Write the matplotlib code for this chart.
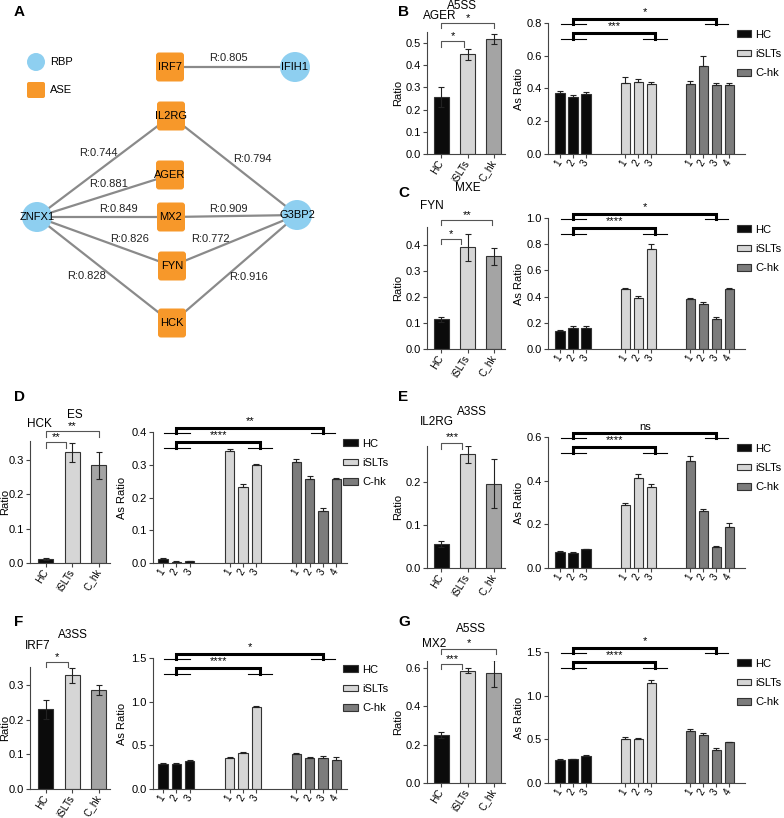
import matplotlib
matplotlib.use("Agg")
import matplotlib.pyplot as plt
from matplotlib.patches import Circle, FancyBboxPatch, Patch
from matplotlib.ticker import FormatStrFormatter, MultipleLocator

W, H = 784, 818
plt.rcParams['font.family'] = ['Liberation Sans', 'DejaVu Sans']

# ------------------------------------------------------------------------
# data
# ------------------------------------------------------------------------
groups = ["HC", "iSLTs", "C_hk"]
legend_names = ["HC", "iSLTs", "C-hk"]
sample_labels = ["1", "2", "3", "1", "2", "3", "1", "2", "3", "4"]
sample_group = [0, 0, 0, 1, 1, 1, 2, 2, 2, 2]
sample_pos = [0, 1, 2, 5, 6, 7, 10, 11, 12, 13]

# panel A network (node layout in pixels)
rbp_nodes = {"ZNFX1": (37, 217), "G3BP2": (297, 215), "IFIH1": (295, 67)}
ase_nodes = {"IRF7": (170, 67), "IL2RG": (171, 116), "AGER": (170, 175),
             "MX2": (171, 217), "FYN": (172, 266), "HCK": (172, 323)}
edges = [("IRF7", "IFIH1", 0.805), ("ZNFX1", "IL2RG", 0.744), ("ZNFX1", "AGER", 0.881),
         ("ZNFX1", "MX2", 0.849), ("ZNFX1", "FYN", 0.826), ("ZNFX1", "HCK", 0.828),
         ("G3BP2", "IL2RG", 0.794), ("G3BP2", "MX2", 0.909), ("G3BP2", "FYN", 0.772),
         ("G3BP2", "HCK", 0.916)]
edge_label_xy = [(228, 58), (98, 153), (109, 184), (118, 209), (130, 239), (87, 276),
                 (252, 159), (228, 209), (210, 239), (249, 277)]

# B  AGER A5SS
ager_ratio = [0.255, 0.45, 0.52]
ager_err = [0.045, 0.025, 0.022]
ager_as = [0.37, 0.35, 0.365, 0.435, 0.44, 0.43, 0.43, 0.535, 0.42, 0.42]
ager_as_err = [0.012, 0.012, 0.015, 0.035, 0.018, 0.012, 0.018, 0.065, 0.015, 0.015]
# C  FYN MXE
fyn_ratio = [0.115, 0.392, 0.357]
fyn_err = [0.01, 0.052, 0.032]
fyn_as = [0.135, 0.163, 0.163, 0.46, 0.39, 0.76, 0.38, 0.345, 0.23, 0.46]
fyn_as_err = [0.01, 0.012, 0.015, 0.008, 0.012, 0.04, 0.007, 0.012, 0.015, 0.008]
# D  HCK ES
hck_ratio = [0.012, 0.322, 0.284]
hck_err = [0.003, 0.028, 0.04]
hck_as = [0.012, 0.004, 0.005, 0.343, 0.233, 0.3, 0.307, 0.257, 0.16, 0.255]
hck_as_err = [0.003, 0.002, 0.002, 0.006, 0.007, 0.002, 0.01, 0.01, 0.007, 0.004]
# E  IL2RG A3SS
il2rg_ratio = [0.055, 0.266, 0.197]
il2rg_err = [0.007, 0.02, 0.058]
il2rg_as = [0.075, 0.068, 0.085, 0.29, 0.41, 0.37, 0.49, 0.26, 0.098, 0.19]
il2rg_as_err = [0.004, 0.003, 0.003, 0.008, 0.022, 0.015, 0.025, 0.012, 0.003, 0.017]
# F  IRF7 A3SS
irf7_ratio = [0.23, 0.328, 0.285]
irf7_err = [0.027, 0.022, 0.015]
irf7_as = [0.285, 0.285, 0.315, 0.355, 0.41, 0.935, 0.4, 0.36, 0.35, 0.335]
irf7_as_err = [0.01, 0.01, 0.02, 0.015, 0.01, 0.02, 0.015, 0.005, 0.03, 0.03]
# G  MX2 A5SS
mx2_ratio = [0.25, 0.585, 0.57]
mx2_err = [0.015, 0.012, 0.07]
mx2_as = [0.265, 0.27, 0.31, 0.5, 0.5, 1.15, 0.595, 0.555, 0.38, 0.465]
mx2_as_err = [0.015, 0.01, 0.008, 0.03, 0.01, 0.025, 0.02, 0.015, 0.02, 0.01]

small_colors = ["#0b0b0b", "#d6d6d6", "#a4a4a4"]
big_colors = ["#0b0b0b", "#d6d6d6", "#7c7c7c"]
EDGE = "#333333"

fig = plt.figure(figsize=(W / 100, H / 100), dpi=100)


def px_axes(x0, y0, x1, y1):
    return fig.add_axes([x0 / W, 1 - y1 / H, (x1 - x0) / W, (y1 - y0) / H])


def px_text(x, y, s, **kw):
    fig.text(x / W, 1 - y / H, s, **kw)


def style(ax):
    for s in ("top", "right"):
        ax.spines[s].set_visible(False)
    for s in ("left", "bottom"):
        ax.spines[s].set_linewidth(0.8)
        ax.spines[s].set_color("#444444")
    ax.tick_params(length=3, width=0.8, labelsize=8, color="#444444", pad=1.5)
    ax.tick_params(axis="x", labelsize=7.2, pad=2)
    ax.yaxis.set_major_formatter(FormatStrFormatter("%.1f"))


# ------------------------------------------------------------------------
# panel A: network
# ------------------------------------------------------------------------
axA = px_axes(0, 0, 390, 345)
axA.set_xlim(0, 390)
axA.set_ylim(345, 0)
axA.axis("off")
nodes = {**rbp_nodes, **ase_nodes}
for (a, b, r), (lx, ly) in zip(edges, edge_label_xy):
    (x1, y1), (x2, y2) = nodes[a], nodes[b]
    axA.plot([x1, x2], [y1, y2], color="#8a8a8a", lw=1.6, zorder=1)
    axA.text(lx, ly, f"R:{r:.3f}", fontsize=8, ha="center", va="center", color="#222222")
for name, (x, y) in rbp_nodes.items():
    axA.add_patch(Circle((x, y), 15, fc="#8ecff0", ec="none", zorder=2))
    axA.text(x, y, name, fontsize=8, ha="center", va="center", zorder=3)
for name, (x, y) in ase_nodes.items():
    axA.add_patch(FancyBboxPatch((x - 14, y - 14.5), 28, 29,
                                 boxstyle="round,pad=0,rounding_size=3",
                                 fc="#f7982a", ec="none", zorder=2))
    axA.text(x, y, name, fontsize=8, ha="center", va="center", zorder=3)
axA.add_patch(Circle((36, 62), 9, fc="#8ecff0", ec="none"))
axA.add_patch(FancyBboxPatch((27, 82), 18, 16, boxstyle="round,pad=0,rounding_size=2",
                             fc="#f7982a", ec="none"))
axA.text(50, 62, "RBP", fontsize=8, va="center")
axA.text(50, 90, "ASE", fontsize=8, va="center")
px_text(14, 12, "A", fontsize=11, fontweight="bold", va="center")

# ------------------------------------------------------------------------
# panels B-G
# ------------------------------------------------------------------------
panels = [
    dict(letter="B", col="R", base=154, gene="AGER", event="A5SS",
         ratio=ager_ratio, err=ager_err, top=0.55, step=0.1,
         asr=ager_as, as_err=ager_as_err, ymax=0.8, ystep=0.2,
         lsig=[("*", 0.509, 0.482, 0.85), ("*", 0.59, 0.568, 2.0)],
         rsig=["*", "***"], letter_xy=(398, 12), gene_xy=(440, 16), event_xy=(462, 6)),
    dict(letter="C", col="R", base=349, gene="FYN", event="MXE",
         ratio=fyn_ratio, err=fyn_err, top=0.47, step=0.1,
         asr=fyn_as, as_err=fyn_as_err, ymax=1.0, ystep=0.2,
         lsig=[("*", 0.425, 0.404, 0.75), ("**", 0.496, 0.478, 1.95)],
         rsig=["*", "****"], letter_xy=(398, 193), gene_xy=(432, 206), event_xy=(468, 188)),
    dict(letter="D", col="L", base=563, gene="HCK", event="ES",
         ratio=hck_ratio, err=hck_err, top=0.355, step=0.1,
         asr=hck_as, as_err=hck_as_err, ymax=0.4, ystep=0.1,
         lsig=[("**", 0.351, 0.336, 0.75), ("**", 0.383, 0.368, 2.0)],
         rsig=["**", "****"], letter_xy=(14, 397), gene_xy=(39, 424), event_xy=(75, 415)),
    dict(letter="E", col="R", base=568, gene="IL2RG", event="A3SS",
         ratio=il2rg_ratio, err=il2rg_err, top=0.285, step=0.1,
         asr=il2rg_as, as_err=il2rg_as_err, ymax=0.6, ystep=0.2,
         lsig=[("***", 0.293, 0.279, 0.8)],
         rsig=["ns", "****"], letter_xy=(398, 397), gene_xy=(437, 422), event_xy=(472, 412)),
    dict(letter="F", col="L", base=789, gene="IRF7", event="A3SS",
         ratio=irf7_ratio, err=irf7_err, top=0.352, step=0.1,
         asr=irf7_as, as_err=irf7_as_err, ymax=1.5, ystep=0.5,
         lsig=[("*", 0.366, 0.352, 0.85)],
         rsig=["*", "****"], letter_xy=(14, 622), gene_xy=(38, 646), event_xy=(73, 635)),
    dict(letter="G", col="R", base=783, gene="MX2", event="A5SS",
         ratio=mx2_ratio, err=mx2_err, top=0.635, step=0.2,
         asr=mx2_as, as_err=mx2_as_err, ymax=1.5, ystep=0.5,
         lsig=[("***", 0.621, 0.595, 0.8), ("*", 0.70, 0.674, 2.1)],
         rsig=["*", "****"], letter_xy=(398, 622), gene_xy=(434, 644), event_xy=(471, 629)),
]

cols = {
    "R": dict(small=(427, 505), sxlim=(-0.55, 2.43), big=(548, 745), bxlim=(-0.92, 14.2),
              slab=-0.31, blab=-0.12, leg_x=0.958),
    "L": dict(small=(30, 110), sxlim=(-0.6, 2.42), big=(153, 347), bxlim=(-0.75, 13.8),
              slab=-0.25, blab=-0.135, leg_x=0.98),
}

for p in panels:
    c = cols[p["col"]]
    base = p["base"]

    # small summary axes
    ax = px_axes(c["small"][0], base - 122, c["small"][1], base)
    style(ax)
    ax.bar(range(3), p["ratio"], width=0.57, color=small_colors, edgecolor=EDGE,
           linewidth=0.8, yerr=p["err"], capsize=2.2,
           error_kw=dict(elinewidth=0.8, capthick=0.8, ecolor="#222222"))
    ax.set_xlim(*c["sxlim"])
    ax.set_ylim(0, p["top"])
    ax.yaxis.set_major_locator(MultipleLocator(p["step"]))
    ax.set_xticks(range(3))
    ax.set_xticklabels(groups, rotation=58, ha="right", va="center",
                       rotation_mode="anchor")
    ax.set_ylabel("Ratio", fontsize=8)
    ax.yaxis.set_label_coords(c["slab"], 0.5)
    for lab, ytop, yleg, x1 in p["lsig"]:
        ax.plot([0, 0, x1, x1], [yleg, ytop, ytop, yleg], color="#555555", lw=0.8,
                clip_on=False)
        ax.text(x1 / 2, ytop, lab, fontsize=8, ha="center", va="bottom")

    # per-sample axes
    axb = px_axes(c["big"][0], base - 131, c["big"][1], base)
    style(axb)
    ymax = p["ymax"]
    axb.bar(sample_pos, p["asr"], width=0.7,
            color=[big_colors[g] for g in sample_group], edgecolor=EDGE, linewidth=0.8,
            yerr=[[0] * len(p["as_err"]), p["as_err"]], capsize=2.2,
            error_kw=dict(elinewidth=0.8, capthick=0.8, ecolor="#222222"))
    axb.set_xlim(*c["bxlim"])
    axb.set_ylim(0, ymax)
    axb.yaxis.set_major_locator(MultipleLocator(p["ystep"]))
    axb.set_xticks(sample_pos)
    axb.set_xticklabels(sample_labels, rotation=58, ha="right", va="center",
                        rotation_mode="anchor")
    axb.set_ylabel("As Ratio", fontsize=8)
    axb.yaxis.set_label_coords(c["blab"], 0.5)

    u = ymax / 131.0
    for lab, xr, top, leg in [(p["rsig"][0], 12.0, ymax + 4 * u, ymax - 1 * u),
                              (p["rsig"][1], 7.3, ymax - 10 * u, ymax - 16 * u)]:
        axb.plot([1, 1, xr, xr], [leg, top, top, leg], color="black", lw=2.2,
                 solid_joinstyle="miter", clip_on=False)
        axb.plot([0.1, 2.0], [leg, leg], color="black", lw=0.8, clip_on=False)
        axb.plot([xr - 0.9, xr + 0.9], [leg, leg], color="black", lw=0.8, clip_on=False)
        axb.text((1 + xr) / 2, top + 1.5 * u, lab, fontsize=8, ha="center", va="bottom")

    handles = [Patch(facecolor=big_colors[i], edgecolor=EDGE, linewidth=0.8)
               for i in range(3)]
    axb.legend(handles, legend_names, loc="upper left", bbox_to_anchor=(c["leg_x"], 0.95),
               frameon=False, fontsize=8, handlelength=1.3, handleheight=0.5,
               handletextpad=0.4, labelspacing=0.85, borderpad=0, borderaxespad=0)

    px_text(*p["letter_xy"], p["letter"], fontsize=11, fontweight="bold", va="center")
    px_text(*p["gene_xy"], p["gene"], fontsize=8.5, ha="center", va="center")
    px_text(*p["event_xy"], p["event"], fontsize=8.5, ha="center", va="center")

fig.savefig("out.png", dpi=100)
